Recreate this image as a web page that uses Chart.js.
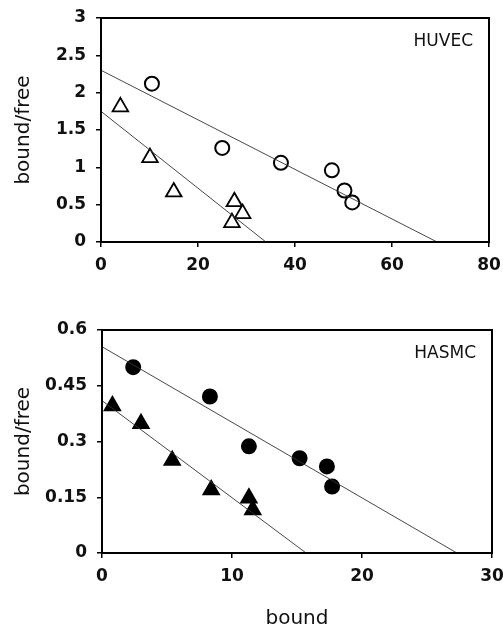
<!DOCTYPE html>
<html lang="en">
<head>
    <meta charset="UTF-8">
    <title>Scatchard plots</title>
    <script src="https://cdn.jsdelivr.net/npm/chart.js"></script>
    <style>
        body {
            margin: 0;
            background: #fff;
            width: 503px;
            height: 631px;
            position: relative;
            overflow: hidden;
        }
        .panel {
            position: absolute;
            left: 0;
        }
        #huvec-panel { top: 0; width: 503px; height: 290px; }
        #hasmc-panel { top: 290px; width: 503px; height: 341px; }
    </style>
</head>
<body>
<div id="huvec-panel" class="panel"><canvas id="huvec-chart" width="503" height="290"></canvas></div>
<div id="hasmc-panel" class="panel"><canvas id="hasmc-chart" width="503" height="341"></canvas></div>

<script>
    // HUVEC (open symbols)
    const huvecCircleX = [10.5, 25.0, 37.1, 47.6, 50.2, 51.8];
    const huvecCircleY = [2.12, 1.26, 1.06, 0.96, 0.69, 0.53];
    const huvecTriX = [4.0, 10.1, 15.0, 27.5, 29.2, 27.0];
    const huvecTriY = [1.81, 1.13, 0.67, 0.54, 0.38, 0.26];
    const huvecFitCircleX = [0, 69.3];
    const huvecFitCircleY = [2.3, 0];
    const huvecFitTriX = [0, 34.0];
    const huvecFitTriY = [1.75, 0];
    const huvecXTicks = [0, 20, 40, 60, 80];
    const huvecYTicks = [0, 0.5, 1, 1.5, 2, 2.5, 3];

    // HASMC (filled symbols)
    const hasmcCircleX = [2.4, 8.3, 11.3, 15.2, 17.3, 17.7];
    const hasmcCircleY = [0.50, 0.421, 0.287, 0.255, 0.233, 0.179];
    const hasmcTriX = [0.8, 3.0, 5.4, 8.4, 11.3, 11.6];
    const hasmcTriY = [0.396, 0.348, 0.249, 0.170, 0.148, 0.116];
    const hasmcFitCircleX = [0, 27.3];
    const hasmcFitCircleY = [0.555, 0];
    const hasmcFitTriX = [0, 15.7];
    const hasmcFitTriY = [0.41, 0];
    const hasmcXTicks = [0, 10, 20, 30];
    const hasmcYTicks = [0, 0.15, 0.3, 0.45, 0.6];

    const FONT = "'DejaVu Sans', Verdana, sans-serif";

    function pts(xs, ys) {
        return xs.map((x, i) => ({ x: x, y: ys[i] }));
    }

    // draws box around plot area + panel label
    function boxPlugin(label) {
        return {
            id: 'box',
            afterDraw(chart) {
                const a = chart.chartArea;
                const ctx = chart.ctx;
                ctx.save();
                ctx.strokeStyle = '#000';
                ctx.lineWidth = 2;
                ctx.strokeRect(a.left, a.top, a.right - a.left, a.bottom - a.top);
                ctx.fillStyle = '#111';
                ctx.font = '17px ' + FONT;
                ctx.textAlign = 'right';
                ctx.textBaseline = 'middle';
                ctx.fillText(label, a.right - 16, a.top + 24);
                ctx.restore();
            }
        };
    }

    function makeChart(id, cfg) {
        const filled = cfg.filled;
        const datasets = [
            {
                type: 'line',
                data: pts(cfg.fitCX, cfg.fitCY),
                borderColor: '#333',
                borderWidth: 0.9,
                pointRadius: 0,
                fill: false
            },
            {
                type: 'line',
                data: pts(cfg.fitTX, cfg.fitTY),
                borderColor: '#333',
                borderWidth: 0.9,
                pointRadius: 0,
                fill: false
            },
            {
                type: 'scatter',
                data: pts(cfg.cx, cfg.cy),
                pointStyle: 'circle',
                pointRadius: 7,
                borderColor: '#000',
                borderWidth: 2,
                backgroundColor: filled ? '#000' : '#fff'
            },
            {
                type: 'scatter',
                data: pts(cfg.tx, cfg.ty),
                pointStyle: 'triangle',
                pointRadius: 9,
                borderColor: '#000',
                borderWidth: 1.8,
                backgroundColor: filled ? '#000' : '#fff'
            }
        ];

        const tickFont = { family: FONT, size: 17, weight: 'bold' };

        return new Chart(document.getElementById(id), {
            type: 'scatter',
            data: { datasets: datasets },
            options: {
                responsive: false,
                animation: false,
                clip: false,
                layout: { padding: cfg.padding },
                plugins: {
                    legend: { display: false },
                    tooltip: { enabled: false }
                },
                scales: {
                    x: {
                        type: 'linear',
                        min: cfg.xTicks[0],
                        max: cfg.xTicks[cfg.xTicks.length - 1],
                        afterBuildTicks: s => { s.ticks = cfg.xTicks.map(v => ({ value: v })); },
                        afterFit: s => { s.height = cfg.xHeight; s.paddingLeft = 0; s.paddingRight = 0; },
                        grid: { display: true, drawOnChartArea: false, tickLength: 5, color: '#000', lineWidth: 1.5 },
                        border: { display: true, color: '#000', width: 2 },
                        ticks: { color: '#111', font: tickFont, padding: 8, callback: v => String(v) },
                        title: {
                            display: cfg.xTitle,
                            text: 'bound',
                            color: '#111',
                            font: { family: FONT, size: 20 },
                            padding: { top: 0, bottom: 0 }
                        }
                    },
                    y: {
                        type: 'linear',
                        min: cfg.yTicks[0],
                        max: cfg.yTicks[cfg.yTicks.length - 1],
                        afterBuildTicks: s => { s.ticks = cfg.yTicks.map(v => ({ value: v })); },
                        afterFit: s => { s.width = cfg.yWidth; s.paddingTop = 0; s.paddingBottom = 0; },
                        grid: { display: true, drawOnChartArea: false, tickLength: 5, color: '#000', lineWidth: 1.5 },
                        border: { display: true, color: '#000', width: 2 },
                        ticks: { color: '#111', font: tickFont, padding: 10, callback: v => String(v) },
                        title: {
                            display: true,
                            text: 'bound/free',
                            color: '#111',
                            font: { family: FONT, size: 20 },
                            padding: { top: 12, bottom: 0 }
                        }
                    }
                }
            },
            plugins: [boxPlugin(cfg.label)]
        });
    }

    makeChart('huvec-chart', {
        label: 'HUVEC',
        filled: false,
        cx: huvecCircleX, cy: huvecCircleY,
        tx: huvecTriX, ty: huvecTriY,
        fitCX: huvecFitCircleX, fitCY: huvecFitCircleY,
        fitTX: huvecFitTriX, fitTY: huvecFitTriY,
        xTicks: huvecXTicks, yTicks: huvecYTicks,
        xTitle: false,
        padding: { left: 0, top: 18, right: 14, bottom: 0 },
        yWidth: 101,
        xHeight: 48
    });

    makeChart('hasmc-chart', {
        label: 'HASMC',
        filled: true,
        cx: hasmcCircleX, cy: hasmcCircleY,
        tx: hasmcTriX, ty: hasmcTriY,
        fitCX: hasmcFitCircleX, fitCY: hasmcFitCircleY,
        fitTX: hasmcFitTriX, fitTY: hasmcFitTriY,
        xTicks: hasmcXTicks, yTicks: hasmcYTicks,
        xTitle: true,
        padding: { left: 0, top: 40, right: 11, bottom: 0 },
        yWidth: 102,
        xHeight: 78
    });
</script>
</body>
</html>
